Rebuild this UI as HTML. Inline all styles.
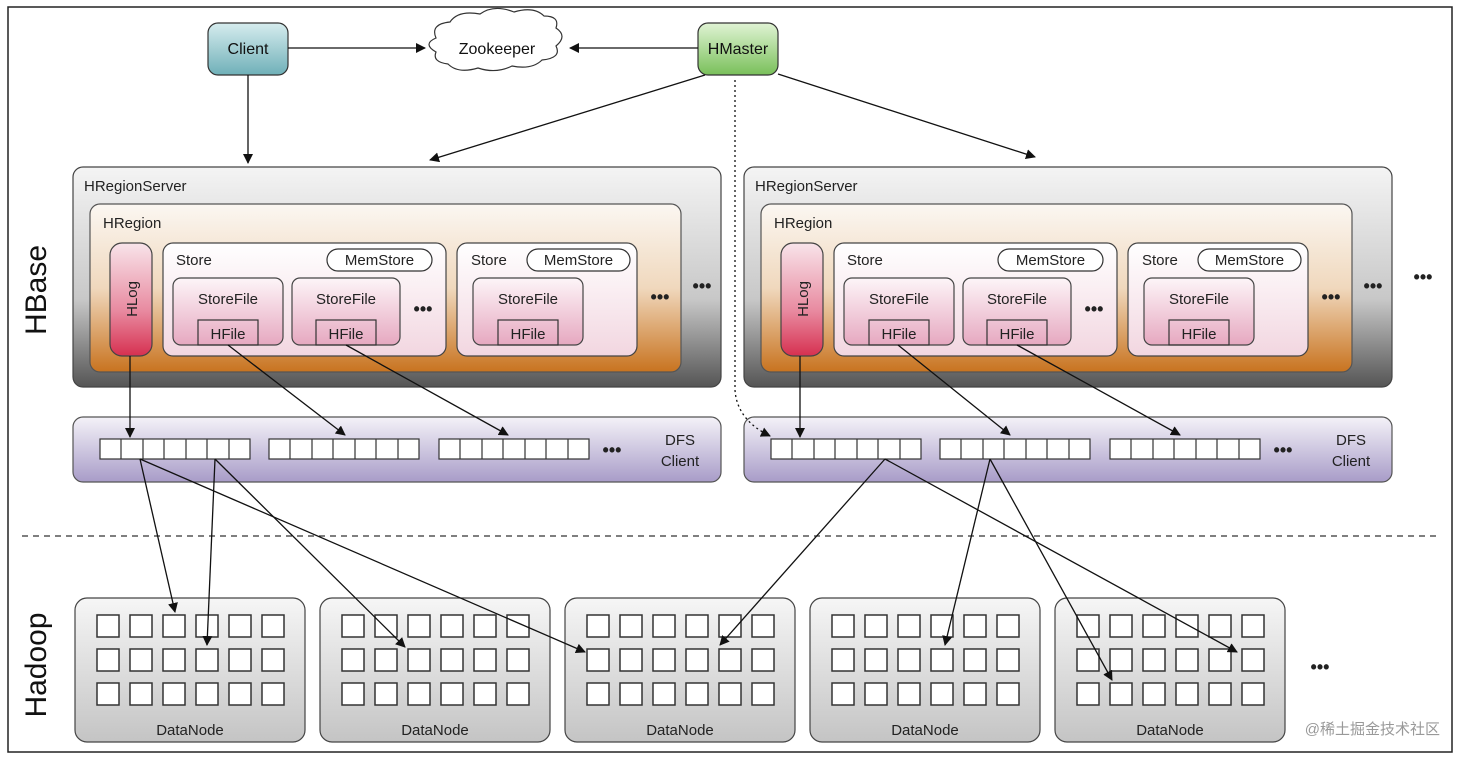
<!DOCTYPE html>
<html><head><meta charset="utf-8"><style>
html,body{margin:0;padding:0;background:#fff;}
svg{display:block;font-family:"Liberation Sans",Arial,sans-serif;}
</style></head><body>
<svg width="1462" height="760" viewBox="0 0 1462 760" xmlns="http://www.w3.org/2000/svg">
<defs>
<linearGradient id="gSrv" x1="0" y1="0" x2="0" y2="1"><stop offset="0" stop-color="#f4f4f4"/><stop offset="0.6" stop-color="#c8c8c8"/><stop offset="1" stop-color="#555"/></linearGradient>
<linearGradient id="gReg" x1="0" y1="0" x2="0" y2="1"><stop offset="0" stop-color="#fbf7f2"/><stop offset="0.5" stop-color="#f0d8bd"/><stop offset="1" stop-color="#c8731f"/></linearGradient>
<linearGradient id="gStore" x1="0" y1="0" x2="0" y2="1"><stop offset="0" stop-color="#fff"/><stop offset="1" stop-color="#f2d6e0"/></linearGradient>
<linearGradient id="gSF" x1="0" y1="0" x2="0" y2="1"><stop offset="0" stop-color="#fdf5f8"/><stop offset="1" stop-color="#e6a8c0"/></linearGradient>
<linearGradient id="gLog" x1="0" y1="0" x2="0" y2="1"><stop offset="0" stop-color="#f8e4ea"/><stop offset="0.6" stop-color="#e88aa0"/><stop offset="1" stop-color="#d63050"/></linearGradient>
<linearGradient id="gDfs" x1="0" y1="0" x2="0" y2="1"><stop offset="0" stop-color="#f4f2f8"/><stop offset="1" stop-color="#a89cc8"/></linearGradient>
<linearGradient id="gDN" x1="0" y1="0" x2="0" y2="1"><stop offset="0" stop-color="#f6f6f6"/><stop offset="1" stop-color="#c4c4c4"/></linearGradient>
<linearGradient id="gCl" x1="0" y1="0" x2="0" y2="1"><stop offset="0" stop-color="#d6ecee"/><stop offset="1" stop-color="#6fb0b8"/></linearGradient>
<linearGradient id="gHM" x1="0" y1="0" x2="0" y2="1"><stop offset="0" stop-color="#e0f3d4"/><stop offset="1" stop-color="#79c05a"/></linearGradient>
<marker id="ar" markerWidth="10" markerHeight="10" refX="9" refY="5" orient="auto" markerUnits="userSpaceOnUse"><path d="M0,0 L10,5 L0,10 z" fill="#111"/></marker>
<g id="srv">
  <rect x="73" y="167" width="648" height="220" rx="10" fill="url(#gSrv)" stroke="#444" stroke-width="1.2"/>
  <text x="84" y="191" font-size="15" fill="#222">HRegionServer</text>
  <rect x="90" y="204" width="591" height="168" rx="10" fill="url(#gReg)" stroke="#555" stroke-width="1.2"/>
  <text x="103" y="228" font-size="15" fill="#222">HRegion</text>
  <rect x="110" y="243" width="42" height="113" rx="12" fill="url(#gLog)" stroke="#444" stroke-width="1.2"/>
  <text transform="translate(137,299) rotate(-90)" text-anchor="middle" font-size="15" fill="#222">HLog</text>
  <rect x="163" y="243" width="283" height="113" rx="10" fill="url(#gStore)" stroke="#444" stroke-width="1.2"/>
  <text x="176" y="265" font-size="15" fill="#222">Store</text>
  <rect x="327" y="249" width="105" height="22" rx="11" fill="#fff" stroke="#333" stroke-width="1.2"/>
  <text x="379.5" y="265" text-anchor="middle" font-size="15" fill="#222">MemStore</text>
  <rect x="173" y="278" width="110" height="67" rx="8" fill="url(#gSF)" stroke="#444" stroke-width="1.2"/>
  <text x="228" y="304" text-anchor="middle" font-size="15" fill="#222">StoreFile</text>
  <rect x="198" y="320" width="60" height="25" fill="none" stroke="#333" stroke-width="1.2"/>
  <text x="228" y="339" text-anchor="middle" font-size="15" fill="#222">HFile</text>
  <rect x="292" y="278" width="108" height="67" rx="8" fill="url(#gSF)" stroke="#444" stroke-width="1.2"/>
  <text x="346" y="304" text-anchor="middle" font-size="15" fill="#222">StoreFile</text>
  <rect x="316" y="320" width="60" height="25" fill="none" stroke="#333" stroke-width="1.2"/>
  <text x="346" y="339" text-anchor="middle" font-size="15" fill="#222">HFile</text>
  <text x="423" y="315" text-anchor="middle" font-size="18" font-weight="bold" fill="#222">•••</text>
  <rect x="457" y="243" width="180" height="113" rx="10" fill="url(#gStore)" stroke="#444" stroke-width="1.2"/>
  <text x="471" y="265" font-size="15" fill="#222">Store</text>
  <rect x="527" y="249" width="103" height="22" rx="11" fill="#fff" stroke="#333" stroke-width="1.2"/>
  <text x="578.5" y="265" text-anchor="middle" font-size="15" fill="#222">MemStore</text>
  <rect x="473" y="278" width="110" height="67" rx="8" fill="url(#gSF)" stroke="#444" stroke-width="1.2"/>
  <text x="528" y="304" text-anchor="middle" font-size="15" fill="#222">StoreFile</text>
  <rect x="498" y="320" width="60" height="25" fill="none" stroke="#333" stroke-width="1.2"/>
  <text x="528" y="339" text-anchor="middle" font-size="15" fill="#222">HFile</text>
  <text x="660" y="303" text-anchor="middle" font-size="18" font-weight="bold" fill="#222">•••</text>
  <text x="702" y="292" text-anchor="middle" font-size="18" font-weight="bold" fill="#222">•••</text>
  <rect x="73" y="417" width="648" height="65" rx="10" fill="url(#gDfs)" stroke="#555" stroke-width="1.2"/>
  <g fill="#fff" stroke="#333" stroke-width="1.2">
    <rect x="100" y="439" width="150" height="20"/><rect x="269" y="439" width="150" height="20"/><rect x="439" y="439" width="150" height="20"/>
  </g>
  <path d="M121,439v20M143,439v20M164,439v20M186,439v20M207,439v20M229,439v20 M290,439v20M312,439v20M333,439v20M355,439v20M376,439v20M398,439v20 M460,439v20M482,439v20M503,439v20M525,439v20M546,439v20M568,439v20" stroke="#333" stroke-width="1.2"/>
  <text x="612" y="456" text-anchor="middle" font-size="18" font-weight="bold" fill="#222">•••</text>
  <text x="680" y="445" text-anchor="middle" font-size="15" fill="#222">DFS</text>
  <text x="680" y="466" text-anchor="middle" font-size="15" fill="#222">Client</text>
</g>
<g id="dn">
  <rect x="0" y="0" width="230" height="144" rx="12" fill="url(#gDN)" stroke="#444" stroke-width="1.2"/>
  <g fill="#fff" stroke="#333" stroke-width="1.5">
    <rect x="22" y="17" width="22" height="22"/><rect x="55" y="17" width="22" height="22"/><rect x="88" y="17" width="22" height="22"/><rect x="121" y="17" width="22" height="22"/><rect x="154" y="17" width="22" height="22"/><rect x="187" y="17" width="22" height="22"/>
    <rect x="22" y="51" width="22" height="22"/><rect x="55" y="51" width="22" height="22"/><rect x="88" y="51" width="22" height="22"/><rect x="121" y="51" width="22" height="22"/><rect x="154" y="51" width="22" height="22"/><rect x="187" y="51" width="22" height="22"/>
    <rect x="22" y="85" width="22" height="22"/><rect x="55" y="85" width="22" height="22"/><rect x="88" y="85" width="22" height="22"/><rect x="121" y="85" width="22" height="22"/><rect x="154" y="85" width="22" height="22"/><rect x="187" y="85" width="22" height="22"/>
  </g>
  <text x="115" y="137" text-anchor="middle" font-size="15" fill="#222">DataNode</text>
</g>
</defs>
<rect x="8" y="7" width="1444" height="745" fill="#fff" stroke="#222" stroke-width="1.5"/>

<text transform="translate(46,290) rotate(-90)" text-anchor="middle" font-size="30" fill="#111">HBase</text>
<text transform="translate(46,665) rotate(-90)" text-anchor="middle" font-size="30" fill="#111">Hadoop</text>

<use href="#srv"/>
<use href="#srv" x="671"/>
<text x="1423" y="283" text-anchor="middle" font-size="18" font-weight="bold" fill="#222">•••</text>

<line x1="22" y1="536" x2="1440" y2="536" stroke="#333" stroke-width="1.2" stroke-dasharray="6,5"/>

<use href="#dn" x="75" y="598"/>
<use href="#dn" x="320" y="598"/>
<use href="#dn" x="565" y="598"/>
<use href="#dn" x="810" y="598"/>
<use href="#dn" x="1055" y="598"/>
<text x="1320" y="673" text-anchor="middle" font-size="18" font-weight="bold" fill="#222">•••</text>

<!-- top nodes -->
<rect x="208" y="23" width="80" height="52" rx="10" fill="url(#gCl)" stroke="#333" stroke-width="1.2"/>
<text x="248" y="54" text-anchor="middle" font-size="16" fill="#111">Client</text>
<rect x="698" y="23" width="80" height="52" rx="10" fill="url(#gHM)" stroke="#333" stroke-width="1.2"/>
<text x="738" y="54" text-anchor="middle" font-size="16" fill="#111">HMaster</text>
<path d="M436,38 q-6,-14 14,-16 q8,-12 30,-8 q14,-10 34,-2 q20,-6 30,4 q16,0 12,12 q12,8 0,18 q6,12 -14,14 q-10,10 -30,6 q-16,8 -34,2 q-20,6 -30,-4 q-16,-2 -12,-12 q-14,-8 0,-14z" fill="#fff" stroke="#333" stroke-width="1.2"/>
<text x="497" y="54" text-anchor="middle" font-size="16" fill="#111">Zookeeper</text>

<g stroke="#111" stroke-width="1.3" fill="none" marker-end="url(#ar)">
<line x1="248" y1="75" x2="248" y2="163"/>
<line x1="288" y1="48" x2="425" y2="48"/>
<line x1="698" y1="48" x2="570" y2="48"/>
<line x1="705" y1="75" x2="430" y2="160"/>
<line x1="778" y1="74" x2="1035" y2="157"/>
<line x1="130" y1="356" x2="130" y2="437"/>
<line x1="228" y1="345" x2="345" y2="435"/>
<line x1="346" y1="345" x2="508" y2="435"/>
<line x1="800" y1="356" x2="800" y2="437"/>
<line x1="898" y1="345" x2="1010" y2="435"/>
<line x1="1017" y1="345" x2="1180" y2="435"/>
<line x1="140" y1="459" x2="175" y2="612"/>
<line x1="140" y1="459" x2="585" y2="652"/>
<line x1="215" y1="459" x2="207" y2="645"/>
<line x1="215" y1="459" x2="405" y2="647"/>
<line x1="885" y1="459" x2="720" y2="645"/>
<line x1="885" y1="459" x2="1237" y2="652"/>
<line x1="990" y1="459" x2="945" y2="645"/>
<line x1="990" y1="459" x2="1112" y2="680"/>
<path d="M735,80 V390 Q737,420 770,436" stroke-dasharray="2,3"/>
</g>

<text x="1440" y="734" text-anchor="end" font-size="15" fill="#999" font-family="Liberation Sans, Noto Sans CJK SC, sans-serif">@稀土掘金技术社区</text>
</svg>
</body></html>
